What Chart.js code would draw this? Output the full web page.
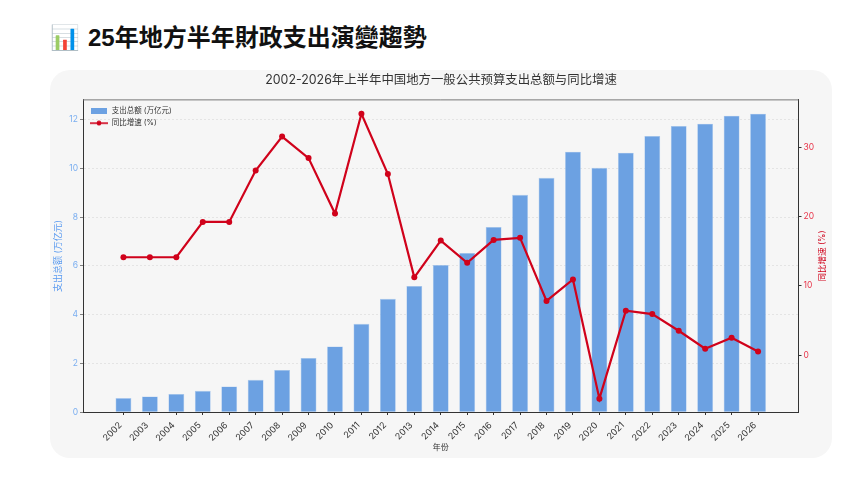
<!DOCTYPE html>
<html lang="zh">
<head>
<meta charset="utf-8">
<title>25年地方半年財政支出演變趨勢</title>
<script src="https://cdn.jsdelivr.net/npm/chart.js@4/dist/chart.umd.min.js"></script>
<style>
  html, body { margin: 0; padding: 0; background: #fff; width: 862px; height: 487px; overflow: hidden; }
  h1 {
    position: absolute; left: 50px; top: 21px; margin: 0;
    font: 700 24px/34px "Liberation Sans", "Noto Sans CJK TC", sans-serif; color: #111;
    white-space: nowrap;
  }
  h1 span { margin-right: 8px; }
  .card {
    position: absolute; left: 50px; top: 70px; width: 782px; height: 388px;
    background: #f6f6f6; border-radius: 20px;
  }
  canvas { display: block; }
</style>
</head>
<body>
<h1><span>📊</span>25年地方半年財政支出演變趨勢</h1>
<div class="card"><canvas id="chart"></canvas></div>
<script>
"use strict";

/* ── Data ──────────────────────────────────────────────────────────────── */
const years = [2002,2003,2004,2005,2006,2007,2008,2009,2010,2011,2012,2013,
               2014,2015,2016,2017,2018,2019,2020,2021,2022,2023,2024,2025,2026];
const spending = [0.57,0.64,0.74,0.87,1.05,1.32,1.73,2.22,2.69,3.62,4.65,5.18,
                  6.04,6.53,7.60,8.92,9.62,10.69,10.03,10.65,11.34,11.75,11.84,12.17,12.25];
const growth = [14.1,14.1,14.1,19.2,19.2,26.6,31.5,28.4,20.4,34.8,26.1,11.2,
                16.5,13.3,16.6,16.9,7.8,10.9,-6.3,6.4,5.9,3.5,0.9,2.5,0.5];
const leftTicks = [0,2,4,6,8,10,12];
const rightTicks = [0,10,20,30];

const TITLE = "2002-2026年上半年中国地方一般公共预算支出总额与同比增速";
const RIGHT_TITLE = "同比增速 (%)";
const FONT = "Inter,'Noto Sans CJK SC',sans-serif";
const BLUE = "#6ca1e2";
const RED = "#d0021b";

/* ── Legend swatches ───────────────────────────────────────────────────── */
function lineSwatch() {
  const c = document.createElement("canvas");
  c.width = 18; c.height = 6;
  const g = c.getContext("2d");
  g.strokeStyle = RED; g.fillStyle = RED; g.lineWidth = 1.6;
  g.beginPath(); g.moveTo(0, 3); g.lineTo(18, 3); g.stroke();
  g.beginPath(); g.arc(9, 3, 2.4, 0, Math.PI * 2); g.fill();
  return c;
}
function barSwatch() {
  const c = document.createElement("canvas");
  c.width = 18; c.height = 6;
  const g = c.getContext("2d");
  g.fillStyle = BLUE; g.fillRect(1, 0, 16, 6);
  return c;
}

/* ── Extras: legend inside the plot, top frame, right axis title ───────── */
const extras = {
  id: "extras",
  afterLayout(chart) {
    const l = chart.legend;
    l.left = chart.chartArea.left + 2;
    l.right = l.left + l.width;
    l.top = chart.chartArea.top + 2;
    l.bottom = l.top + l.height;
    l.adjustHitBoxes();
  },
  afterDatasetsDraw(chart) {
    const { ctx, chartArea: a } = chart;
    ctx.save();
    ctx.strokeStyle = "#777";
    ctx.lineWidth = 1;
    ctx.beginPath(); ctx.moveTo(a.left, a.top); ctx.lineTo(a.right, a.top); ctx.stroke();
    ctx.translate(772, (a.top + a.bottom) / 2);
    ctx.rotate(-Math.PI / 2);
    ctx.fillStyle = RED;
    ctx.font = "8.5px " + FONT;
    ctx.textAlign = "center";
    ctx.textBaseline = "middle";
    ctx.fillText(RIGHT_TITLE, 0, 0);
    ctx.restore();
  },
};

Chart.defaults.font.family = FONT;

new Chart(document.getElementById("chart"), {
  data: {
    datasets: [
      {
        type: "line", label: "同比增速 (%)", yAxisID: "y2", order: 1,
        data: years.map((y, i) => ({ x: y, y: growth[i] })),
        borderColor: RED, backgroundColor: RED, borderWidth: 2.2,
        pointRadius: 3, pointBorderWidth: 0, pointHoverRadius: 3, tension: 0,
      },
      {
        type: "bar", label: "支出总额 (万亿元)", yAxisID: "y", order: 2,
        data: years.map((y, i) => ({ x: y, y: spending[i] })),
        backgroundColor: BLUE, borderColor: "#a9c8ee", borderWidth: 0.6,
        barPercentage: 0.6, categoryPercentage: 1,
      },
    ],
  },
  options: {
    responsive: true, maintainAspectRatio: false, animation: false,
    layout: { padding: 0 },
    plugins: {
      tooltip: { enabled: false },
      title: {
        display: true, text: TITLE, color: "#333",
        font: { size: 12.4, weight: "normal" }, padding: { top: 3, bottom: 12 },
      },
      legend: {
        position: "chartArea", align: "start",
        labels: {
          font: { size: 7.5 }, color: "#333", usePointStyle: true, pointStyleWidth: 18, boxHeight: 6, padding: 5,
          generateLabels: () => [
            { text: "支出总额 (万亿元)", pointStyle: barSwatch(), fontColor: "#333", lineWidth: 0, datasetIndex: 1 },
            { text: "同比增速 (%)", pointStyle: lineSwatch(), fontColor: "#333", lineWidth: 0, datasetIndex: 0 },
          ],
        },
      },
    },
    scales: {
      x: {
        type: "linear", offset: false, min: 2000.47, max: 2027.53,
        afterBuildTicks: (s) => { s.ticks = years.map((v) => ({ value: v })); },
        afterFit: (s) => { s.height = 46; },
        grid: { offset: false, drawOnChartArea: false, drawTicks: true, tickLength: 3, color: "#333" },
        border: { color: "#333", width: 1 },
        ticks: {
          maxRotation: 45, minRotation: 45, autoSkip: false, padding: 5, labelOffset: -3,
          color: "#333", font: { size: 9 },
          callback: (v) => String(v),
        },
        title: { display: true, text: "年份", color: "#333", font: { size: 8 }, padding: { top: 0, bottom: 6 } },
      },
      y: {
        position: "left", min: 0, max: 12.82,
        afterBuildTicks: (s) => { s.ticks = leftTicks.map((v) => ({ value: v })); },
        afterFit: (s) => { s.width = 33; },
        grid: { color: "#d9d9d9", lineWidth: 0.6, tickLength: 3, tickColor: "#333" },
        border: { color: "#333", width: 1, dash: [2, 2] },
        ticks: { color: "#7aaef0", font: { size: 8.5 }, padding: 2 },
        title: { display: true, text: "支出总额 (万亿元)", color: "#5b9bf0", font: { size: 9 }, padding: { top: 3, bottom: 0 } },
      },
      y2: {
        position: "right", min: -8.22, max: 36.8,
        afterBuildTicks: (s) => { s.ticks = rightTicks.map((v) => ({ value: v })); },
        afterFit: (s) => { s.width = 33.5; },
        grid: { drawOnChartArea: false, tickLength: 3, color: "#333" },
        border: { color: "#333", width: 1 },
        ticks: { color: "#e8354a", font: { size: 8.5 }, padding: 2 },
      },
    },
  },
  plugins: [extras],
});
</script>
</body>
</html>
